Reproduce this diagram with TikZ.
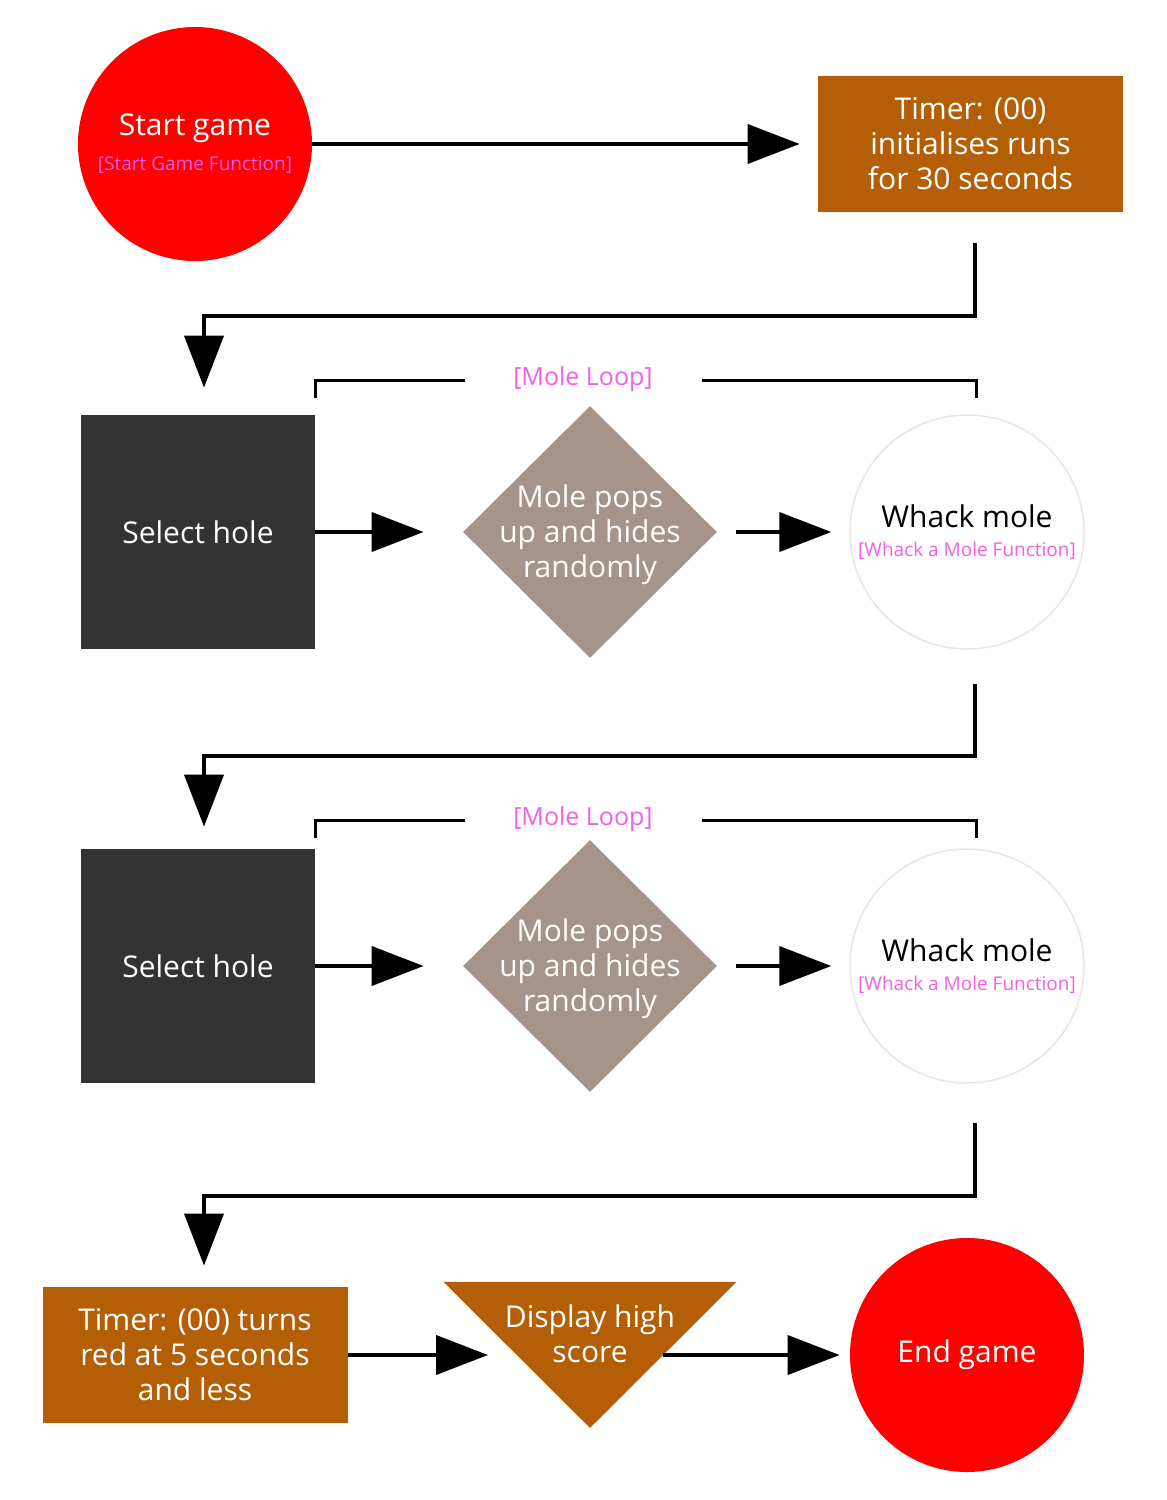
\documentclass[tikz,border=0pt]{standalone}
\usepackage{fontspec}
\setmainfont{Open Sans}
\usetikzlibrary{arrows.meta,shapes.geometric}
\definecolor{gamered}{HTML}{FF0000}
\definecolor{timerbrown}{HTML}{B45F06}
\definecolor{holegrey}{HTML}{333333}
\definecolor{molegrey}{HTML}{A69389}
\definecolor{funcpink}{HTML}{F060E8}
\definecolor{rimgrey}{HTML}{E6E6E6}
\newcommand{\fnlabel}[1]{{\fontsize{9.5}{12}\selectfont\color{funcpink}#1}}

\begin{document}
\begin{tikzpicture}[x=0.5pt,y=-0.5pt,
	txt/.style={font=\fontsize{15}{17.5}\selectfont, align=center, text=white},
	endpoint/.style={circle, fill=gamered, minimum size=117pt, inner sep=0pt, txt},
	timerbox/.style={rectangle, fill=timerbrown, minimum width=152.5pt,
		minimum height=68pt, inner sep=0pt, txt},
	holebox/.style={rectangle, fill=holegrey, minimum size=117pt, inner sep=0pt, txt},
	molediamond/.style={diamond, fill=molegrey, minimum width=127pt,
		minimum height=126pt, inner sep=0pt},
	whackcircle/.style={circle, draw=rimgrey, line width=0.75pt, fill=white,
		minimum size=117pt, inner sep=0pt, txt, text=black},
	looplabel/.style={font=\fontsize{12.5}{14}\selectfont, text=funcpink},
	flow/.style={line width=2pt, -{Triangle[length=26pt, width=19.5pt]}},
	bracket/.style={line width=1.5pt}]
		\useasboundingbox (0,0) rectangle (1167,1500);

		% top row
		\node[endpoint] (start) at (195,144) {Start game\\\fnlabel{[Start Game Function]}};
		\node[timerbox] (timer1) at (970.5,144) {Timer: (00)\\initialises runs\\for 30 seconds};
		\draw[flow, shorten >=9pt] (start) -- (timer1);

		% first mole loop
		\node[holebox] (hole1) at (198,532) {Select hole};
		\node[molediamond, label={[txt, yshift=-1.5pt]center:Mole pops\\up and hides\\randomly}] (mole1) at (590,532) {};
		\node[whackcircle] (whack1) at (967,532) {Whack mole\\[-3pt]\fnlabel{[Whack a Mole Function]}};
		\node[looplabel] (loop1) at (583,379) {[Mole Loop]};
		\draw[bracket] (315,398) -- (315,380) -- (465,380);
		\draw[bracket] (702,380) -- (976,380) -- (976,398);
		\draw[flow, shorten <=15.5pt, shorten >=13.5pt] ([xshift=2.25pt]timer1.south) -- ++(0,104) -| ([xshift=3pt]hole1.north);
		\draw[flow, shorten >=19.5pt] (hole1) -- (mole1);
		\draw[flow, shorten <=9.5pt, shorten >=9pt] (mole1) -- (whack1);

		% second mole loop
		\node[holebox] (hole2) at (198,966) {Select hole};
		\node[molediamond, label={[txt, yshift=-1.5pt]center:Mole pops\\up and hides\\randomly}] (mole2) at (590,966) {};
		\node[whackcircle] (whack2) at (967,966) {Whack mole\\[-3pt]\fnlabel{[Whack a Mole Function]}};
		\node[looplabel] (loop2) at (583,819) {[Mole Loop]};
		\draw[bracket] (315,838) -- (315,820) -- (465,820);
		\draw[bracket] (702,820) -- (976,820) -- (976,838);
		\draw[flow, shorten <=17pt, shorten >=11pt] ([xshift=4pt]whack1.south) -- ++(0,106) -| ([xshift=3pt]hole2.north);
		\draw[flow, shorten >=19.5pt] (hole2) -- (mole2);
		\draw[flow, shorten <=9.5pt, shorten >=9pt] (mole2) -- (whack2);

		% end row
		\node[timerbox] (timer2) at (195,1355) {Timer: (00) turns\\red at 5 seconds\\and less};
		\node[isosceles triangle, isosceles triangle stretches, shape border rotate=270,
			fill=timerbrown, minimum width=146.5pt, minimum height=73pt, inner sep=0pt,
			label={[txt, yshift=4.5pt]center:Display high\\score}] (score) at (590,1342.5) {};
		\node[endpoint] (endgame) at (967,1355) {End game};
		\draw[flow, shorten <=19.5pt, shorten >=10.5pt] ([xshift=4pt]whack2.south) -- ++(0,112) -| ([xshift=4.5pt]timer2.north);
		\draw[flow, shorten >=51pt] (timer2.east) -- (timer2.east -| score);
		\draw[flow, shorten <=36.5pt, shorten >=5pt] (endgame.west -| score) -- (endgame.west);
\end{tikzpicture}
\end{document}
